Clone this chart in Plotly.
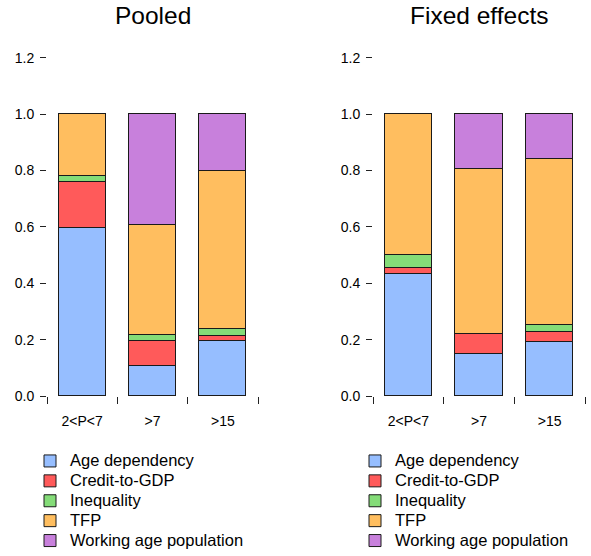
import plotly.graph_objects as go

categories = ["2<P<7", ">7", ">15"]
series_names = ["Age dependency", "Credit-to-GDP", "Inequality", "TFP", "Working age population"]
colors = ["#96BEFF", "#FF5A5A", "#84DC78", "#FFBE5F", "#C880DC"]

# Pooled
pooled_age = [0.597, 0.109, 0.195]
pooled_credit = [0.162, 0.088, 0.020]
pooled_inequality = [0.021, 0.020, 0.023]
pooled_tfp = [0.220, 0.392, 0.562]
pooled_wap = [0.000, 0.391, 0.200]

# Fixed effects
fixed_age = [0.433, 0.151, 0.193]
fixed_credit = [0.023, 0.070, 0.036]
fixed_inequality = [0.046, 0.002, 0.025]
fixed_tfp = [0.498, 0.583, 0.589]
fixed_wap = [0.000, 0.194, 0.157]

y_ticks = [0.0, 0.2, 0.4, 0.6, 0.8, 1.0, 1.2]
panel_titles = ["Pooled", "Fixed effects"]

W, H = 591, 556
FONT = "Liberation Sans, Arial, sans-serif"

pooled = [pooled_age, pooled_credit, pooled_inequality, pooled_tfp, pooled_wap]
fixed = [fixed_age, fixed_credit, fixed_inequality, fixed_tfp, fixed_wap]
xpos = list(range(len(categories)))

fig = go.Figure()
for panel, (data, xa, ya, lg) in enumerate([(pooled, "x", "y", "legend"), (fixed, "x2", "y2", "legend2")]):
    for name, vals, col in zip(series_names, data, colors):
        fig.add_trace(go.Bar(
            x=xpos, y=vals, name='<span style="font-size:16.5px">' + name + '</span>',
            marker=dict(color=col, line=dict(color="#1a1a1a", width=1)),
            width=0.67, xaxis=xa, yaxis=ya, legend=lg,
            hovertemplate=name + ": %{y:.3f}<extra></extra>",
        ))

def px_x(p):
    return p / W

def px_y(p):
    return 1 - p / H

ydom = [px_y(396), px_y(57.6)]

xaxis_common = dict(
    range=[-0.5, len(categories) - 0.5], showline=False, zeroline=False, showgrid=False,
    tickmode="array", tickvals=xpos, ticktext=categories,
    ticks="outside", ticklen=12, tickcolor="rgba(0,0,0,0)",
    tickfont=dict(family=FONT, size=14, color="#000"),
    minor=dict(tickmode="array", tickvals=[i - 0.5 for i in range(len(categories) + 1)],
               ticks="outside", ticklen=7, tickwidth=1, tickcolor="#222", showgrid=False),
    fixedrange=True, automargin=False,
)
yaxis_common = dict(
    range=[0, 1.2], showline=False, zeroline=False, showgrid=False,
    tickmode="array", tickvals=y_ticks, ticktext=[f"{v:.1f}" for v in y_ticks],
    ticks="outside", ticklen=6, tickwidth=1, tickcolor="#222",
    tickfont=dict(family=FONT, size=14, color="#000"), ticklabelstandoff=3,
    fixedrange=True, domain=ydom, automargin=False,
)

fig.update_layout(
    width=W, height=H, margin=dict(l=0, r=0, t=0, b=0, pad=0, autoexpand=False),
    paper_bgcolor="white", plot_bgcolor="white",
    barmode="stack", bargap=0,
    xaxis=dict(domain=[px_x(47), px_x(258)], anchor="y", **xaxis_common),
    yaxis=dict(anchor="x", **yaxis_common),
    xaxis2=dict(domain=[px_x(373), px_x(585)], anchor="y2", **xaxis_common),
    yaxis2=dict(anchor="x2", **yaxis_common),
    legend=dict(x=px_x(30), xanchor="left", y=px_y(446), yanchor="top",
                traceorder="normal", font=dict(family=FONT, size=13, color="#000"),
                bgcolor="rgba(0,0,0,0)", borderwidth=0),
    legend2=dict(x=px_x(355), xanchor="left", y=px_y(446), yanchor="top",
                 traceorder="normal", font=dict(family=FONT, size=13, color="#000"),
                 bgcolor="rgba(0,0,0,0)", borderwidth=0),
    showlegend=True,
)

for title, dom in zip(panel_titles, [(47, 258), (373, 585)]):
    fig.add_annotation(text=title, x=px_x((dom[0] + dom[1]) / 2), y=1, xref="paper", yref="paper",
                       xanchor="center", yanchor="top", showarrow=False,
                       font=dict(family=FONT, size=24.5, color="#000"))

fig.write_html("out.html", config={"displayModeBar": False},
               post_script="document.body.style.margin='0';")
